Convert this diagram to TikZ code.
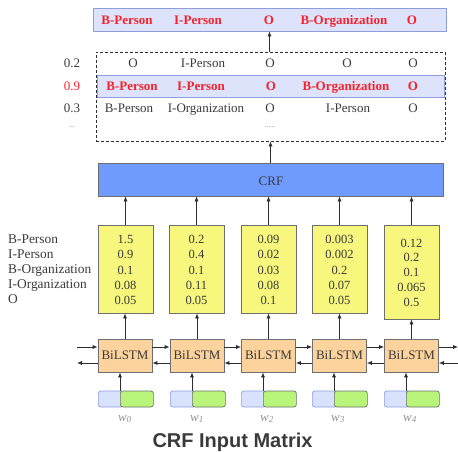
\documentclass[tikz,border=0pt]{standalone}
\usepackage{fontspec}
\setmainfont{Liberation Serif}
\newfontfamily\titlefont{Liberation Sans}
\usetikzlibrary{arrows.meta}

\definecolor{tagred}{HTML}{F5222D}
\definecolor{txtgray}{HTML}{3A3A3A}
\definecolor{linegray}{HTML}{2E2E2E}
\definecolor{edgegray}{HTML}{6E6E6E}
\definecolor{pathfill}{HTML}{DCE3FA}
\definecolor{pathedge}{HTML}{8E9CE0}
\definecolor{crffill}{HTML}{6F9BFF}
\definecolor{scorefill}{HTML}{F6F77C}
\definecolor{lstmfill}{HTML}{FCD39C}
\definecolor{embA}{HTML}{D9E2FC}
\definecolor{embB}{HTML}{B9F57A}

\tikzset{
  every node/.style={font=\fontsize{13}{15}\selectfont, text=txtgray, inner sep=0pt},
  lbl/.style={anchor=base},
  tag/.style={anchor=base, font=\fontsize{13}{15}\selectfont\bfseries, text=tagred},
  pathbox/.style={draw=pathedge, fill=pathfill, line width=0.8pt},
  crfbox/.style={draw=edgegray, fill=crffill, line width=0.8pt},
  scorebox/.style={draw=edgegray, fill=scorefill, line width=0.8pt, minimum width=55pt},
  lstmbox/.style={draw=edgegray, fill=lstmfill, line width=0.8pt, minimum width=54pt, minimum height=33pt},
  embleft/.style={draw=pathedge, fill=embA, line width=0.7pt, rounded corners=2.5pt, minimum height=16pt},
  embright/.style={draw=edgegray, fill=embB, line width=0.7pt, rounded corners=2.5pt, minimum height=16pt},
  arr/.style={draw=linegray, line width=0.8pt, -{Latex[length=5pt,width=4.2pt]}},
  wlabel/.style={anchor=base, font=\fontsize{13}{15}\selectfont\itshape, text=edgegray!75},
  dots/.style={anchor=base, font=\fontsize{7}{8}\selectfont, text=edgegray},
}

\begin{document}
\begin{tikzpicture}[x=1pt,y=-1pt]
\useasboundingbox (0,0) rectangle (458,452);

% ---- best path on top
\node[pathbox, minimum width=353pt, minimum height=23pt] (best) at (269.5,19.5) {};
\node[tag] (b1) at (127,24.5) {B-Person};
\node[tag] (b2) at (198,24.5) {I-Person};
\node[tag] (b3) at (269,24.5) {O};
\node[tag] (b4) at (344,24.5) {B-Organization};
\node[tag] (b5) at (412,24.5) {O};

% ---- candidate paths
\node[draw=linegray, dashed, dash pattern=on 3pt off 2pt, line width=0.8pt,
      minimum width=349pt, minimum height=89pt] (cand) at (270.5,96.5) {};
\node[pathbox, minimum width=347pt, minimum height=22pt] (hl) at (270.5,86) {};

\node[lbl] (s1) at (72,68) {0.2};
\node[lbl, text=tagred] (s2) at (72,90.5) {0.9};
\node[lbl] (s3) at (72,113) {0.3};
\node[dots] (s4) at (72,128) {...};

\node[lbl] (p11) at (133,68) {O};
\node[lbl] (p12) at (203,68) {I-Person};
\node[lbl] (p13) at (270,68) {O};
\node[lbl] (p14) at (347,68) {O};
\node[lbl] (p15) at (413,68) {O};

\node[tag] (p21) at (132,90.5) {B-Person};
\node[tag] (p22) at (201,90.5) {I-Person};
\node[tag] (p23) at (271,90.5) {O};
\node[tag] (p24) at (346,90.5) {B-Organization};
\node[tag] (p25) at (413,90.5) {O};

\node[lbl] (p31) at (129,113) {B-Person};
\node[lbl] (p32) at (206,113) {I-Organization};
\node[lbl] (p33) at (270,113) {O};
\node[lbl] (p34) at (348,113) {I-Person};
\node[lbl] (p35) at (413,113) {O};
\node[dots] (p4) at (270,128) {......};

\draw[arr] (cand.north -| best.south) -- (best.south);

% ---- CRF layer
\node[crfbox, minimum width=345pt, minimum height=33pt] (crf) at (270.5,179.5) {};
\node[lbl] (crft) at (271,185.5) {CRF};
\draw[arr] (crf.north -| cand.south) -- (cand.south);

% ---- emission scores
\foreach \t [count=\k] in {B-Person,I-Person,B-Organization,I-Organization,O}{
  \node[anchor=base west, font=\fontsize{13.4}{15}\selectfont] (lab\k) at (8,{243.5+15*(\k-1)}) {\t};
}

\node[scorebox, minimum height=88pt] (e0) at (125.5,269) {};
\node[scorebox, minimum height=88pt] (e1) at (196.5,269) {};
\node[scorebox, minimum height=88pt] (e2) at (268.5,269) {};
\node[scorebox, minimum height=88pt] (e3) at (339.5,269) {};
\node[scorebox, minimum height=94pt] (e4) at (411.5,272) {};

\foreach \i/\vals/\top/\gap in {0/{1.5,0.9,0.1,0.08,0.05}/243.5/15.3,
                                1/{0.2,0.4,0.1,0.11,0.05}/243.5/15.3,
                                2/{0.09,0.02,0.03,0.08,0.1}/243.5/15.3,
                                3/{0.003,0.002,0.2,0.07,0.05}/243.5/15.3,
                                4/{0.12,0.2,0.1,0.065,0.5}/247/14.9}{
  \foreach \v [count=\k] in \vals{
    \node[anchor=base, font=\fontsize{12.5}{15}\selectfont] (v\i\k) at (e\i.center |- 0,{\top+\gap*(\k-1)}) {\v};
  }
}

\foreach \i in {0,...,4}{
  \draw[arr] (e\i.north) -- (e\i.north |- crf.south);
}

% ---- BiLSTM layer
\foreach \i/\x in {0/125,1/197,2/268.5,3/339.5,4/411.5}{
  \node[lstmbox] (l\i) at (\x,355.5) {};
  \node[lbl] (lt\i) at (\x,359.5) {BiLSTM};
}

\foreach \i in {0,...,4}{
  \draw[arr] (l\i.north) -- (l\i.north |- e\i.south);
}

\coordinate (inR) at (77,347);
\coordinate (outL) at (77,363);
\coordinate (outR) at (458,347);
\coordinate (inL) at (458,363);

\draw[arr] (inR) -- (inR -| l0.west);
\draw[arr] (outL -| l0.west) -- (outL);
\foreach \i/\j in {0/1,1/2,2/3,3/4}{
  \draw[arr] ([yshift=8.5pt]l\i.east) -- ([yshift=8.5pt]l\j.west);
  \draw[arr] ([yshift=-7.5pt]l\j.west) -- ([yshift=-7.5pt]l\i.east);
}
\draw[arr] ([yshift=8.5pt]l4.east) -- (outR);
\draw[arr] (inL) -- (inL -| l4.east);

% ---- word embeddings
\foreach \i/\x/\y/\z in {0/98/120/153, 1/170/192/225, 2/241/263/296, 3/312/334/367, 4/384/406/439}{
  \node[embleft, minimum width={\y-\x+3}, anchor=west] (a\i) at (\x,399) {};
  \node[embright, minimum width={\z-\y}, anchor=west] (g\i) at (\y,399) {};
  \draw[arr] (g\i.north west) -- (g\i.north west |- l\i.south);
}

\foreach \i/\x in {0/125,1/197,2/267,3/338,4/410}{
  \node[wlabel] (w\i) at (\x,421) {w\textsubscript{\i}};
}

% ---- caption
\node[anchor=base, font=\titlefont\bfseries\fontsize{20}{22}\selectfont, text=txtgray] (title) at (232.5,447.5) {CRF Input Matrix};
\end{tikzpicture}
\end{document}
